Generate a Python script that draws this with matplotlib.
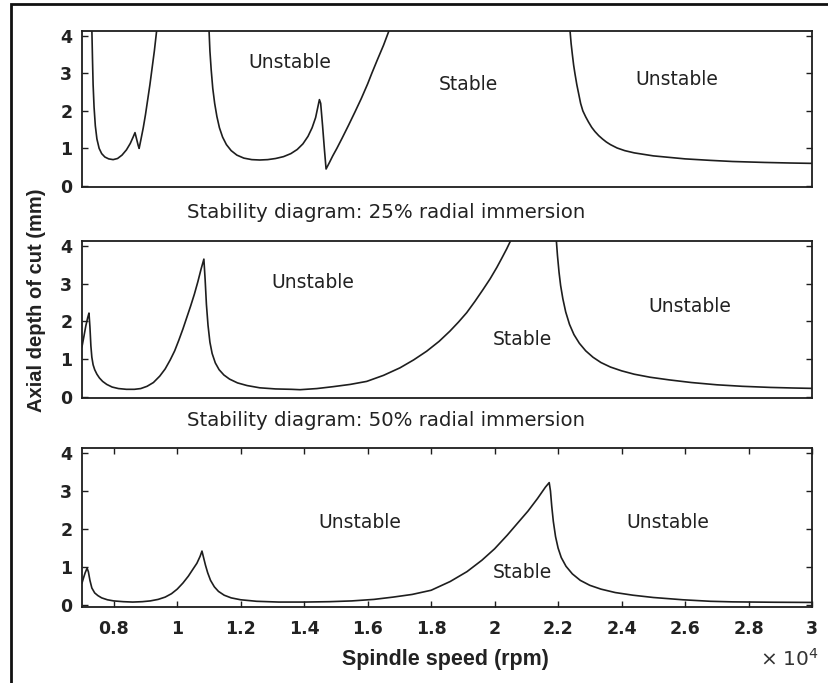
import matplotlib
matplotlib.use("Agg")
import matplotlib.pyplot as plt
from matplotlib.patches import Rectangle

# spindle speed in units of 1e4 rpm, axial depth of cut in mm
# 25% radial immersion (three lobes, clipped at the top)
x25_a = [0.731, 0.733, 0.735, 0.738, 0.742, 0.747, 0.754, 0.762, 0.772, 0.784, 0.798, 0.812, 0.826, 0.840, 0.852, 0.861, 0.867,
         0.872, 0.877, 0.880, 0.886, 0.893, 0.900, 0.907, 0.914, 0.921, 0.928, 0.936]
y25_a = [4.20, 3.40, 2.70, 2.10, 1.60, 1.25, 1.00, 0.86, 0.77, 0.72, 0.70, 0.73, 0.82, 0.96, 1.13, 1.30, 1.42,
         1.25, 1.08, 1.00, 1.25, 1.55, 1.90, 2.30, 2.70, 3.15, 3.60, 4.20]
x25_b = [1.100, 1.103, 1.107, 1.112, 1.118, 1.125, 1.133, 1.143, 1.155, 1.170, 1.188, 1.210, 1.235, 1.260, 1.285, 1.310, 1.335,
         1.358, 1.378, 1.396, 1.412, 1.425, 1.436, 1.443, 1.448, 1.452, 1.458, 1.464, 1.469, 1.480, 1.490, 1.503, 1.520, 1.540,
         1.560, 1.580, 1.600, 1.613, 1.630, 1.650, 1.670]
y25_b = [4.20, 3.60, 3.10, 2.60, 2.20, 1.85, 1.55, 1.30, 1.10, 0.94, 0.82, 0.74, 0.70, 0.69, 0.70, 0.73, 0.78,
         0.86, 0.97, 1.12, 1.32, 1.55, 1.82, 2.10, 2.30, 2.20, 1.60, 0.95, 0.45, 0.63, 0.80, 1.00, 1.28, 1.62,
         1.97, 2.33, 2.72, 3.00, 3.35, 3.75, 4.20]
x25_c = [2.237, 2.241, 2.245, 2.249, 2.253, 2.259, 2.265, 2.271, 2.278, 2.287, 2.296, 2.306, 2.316, 2.328, 2.340, 2.352, 2.365,
         2.386, 2.410, 2.440, 2.470, 2.500, 2.550, 2.600, 2.680, 2.750, 2.850, 2.930, 3.000]
y25_c = [4.20, 3.80, 3.50, 3.22, 3.00, 2.70, 2.45, 2.20, 2.00, 1.84, 1.70, 1.56, 1.45, 1.34, 1.25, 1.17, 1.10,
         1.01, 0.94, 0.88, 0.84, 0.80, 0.76, 0.72, 0.68, 0.65, 0.625, 0.61, 0.60]

# 50% radial immersion
x50_a = [0.700, 0.706, 0.712, 0.718, 0.722, 0.725, 0.728, 0.731, 0.735, 0.740, 0.747, 0.755, 0.765, 0.778, 0.795, 0.815, 0.840,
         0.865, 0.885, 0.905, 0.925, 0.945, 0.962, 0.978, 0.992, 1.005, 1.018, 1.030, 1.042, 1.054, 1.065, 1.075, 1.084,
         1.088, 1.092, 1.097, 1.103, 1.110, 1.120, 1.132, 1.147, 1.165, 1.190, 1.220, 1.260, 1.310, 1.360, 1.387, 1.440,
         1.491, 1.545, 1.597, 1.650, 1.702, 1.745, 1.786, 1.825, 1.859, 1.886, 1.912, 1.938, 1.964, 1.986, 2.007, 2.023,
         2.038, 2.054]
y50_a = [1.33, 1.60, 1.88, 2.10, 2.22, 1.85, 1.35, 1.05, 0.85, 0.72, 0.60, 0.50, 0.41, 0.33, 0.26, 0.22, 0.20,
         0.20, 0.22, 0.28, 0.38, 0.55, 0.74, 0.98, 1.22, 1.50, 1.80, 2.10, 2.40, 2.72, 3.05, 3.38, 3.65,
         3.10, 2.45, 1.90, 1.45, 1.15, 0.90, 0.72, 0.58, 0.47, 0.37, 0.30, 0.24, 0.21, 0.20, 0.19, 0.22,
         0.27, 0.33, 0.41, 0.57, 0.77, 0.98, 1.21, 1.47, 1.74, 1.98, 2.23, 2.53, 2.85, 3.13, 3.43, 3.68,
         3.92, 4.20]
x50_b = [2.194, 2.198, 2.203, 2.208, 2.215, 2.224, 2.236, 2.250, 2.267, 2.287, 2.310, 2.335, 2.365, 2.400, 2.440, 2.490,
         2.550, 2.620, 2.700, 2.780, 2.870, 2.940, 3.000]
y50_b = [4.20, 3.75, 3.30, 2.95, 2.60, 2.25, 1.92, 1.65, 1.42, 1.22, 1.05, 0.91, 0.79, 0.69, 0.60, 0.52,
         0.45, 0.38, 0.32, 0.28, 0.25, 0.235, 0.225]

# 100% radial immersion (slotting)
x100 = [0.700, 0.705, 0.710, 0.716, 0.720, 0.725, 0.731, 0.740, 0.750, 0.762, 0.780, 0.800, 0.830, 0.860, 0.890, 0.915,
        0.940, 0.962, 0.982, 1.000, 1.018, 1.035, 1.050, 1.062, 1.072, 1.078, 1.083, 1.089, 1.096, 1.105, 1.117, 1.130,
        1.148, 1.170, 1.200, 1.250, 1.320, 1.400, 1.480, 1.550, 1.620, 1.680, 1.740, 1.800, 1.860, 1.913, 1.960, 2.000,
        2.040, 2.075, 2.105, 2.135, 2.160, 2.172, 2.176, 2.180, 2.185, 2.192, 2.200, 2.210, 2.225, 2.245, 2.270, 2.300,
        2.335, 2.380, 2.436, 2.500, 2.593, 2.680, 2.750, 2.880, 3.000]
y100 = [0.58, 0.72, 0.85, 0.97, 0.88, 0.65, 0.45, 0.32, 0.25, 0.19, 0.14, 0.11, 0.09, 0.08, 0.09, 0.11,
        0.15, 0.21, 0.30, 0.42, 0.58, 0.76, 0.95, 1.10, 1.28, 1.42, 1.25, 1.05, 0.85, 0.65, 0.48, 0.36,
        0.26, 0.19, 0.14, 0.10, 0.08, 0.08, 0.09, 0.11, 0.15, 0.21, 0.28, 0.39, 0.62, 0.88, 1.18, 1.48,
        1.84, 2.18, 2.47, 2.80, 3.10, 3.22, 3.00, 2.60, 2.20, 1.80, 1.50, 1.25, 1.02, 0.82, 0.65, 0.52,
        0.42, 0.33, 0.26, 0.20, 0.14, 0.10, 0.085, 0.075, 0.07]

xticks = [0.8, 1.0, 1.2, 1.4, 1.6, 1.8, 2.0, 2.2, 2.4, 2.6, 2.8, 3.0]
xticklabels = ['0.8', '1', '1.2', '1.4', '1.6', '1.8', '2', '2.2', '2.4', '2.6', '2.8', '3']
yticks = [0, 1, 2, 3, 4]

ink = '#1e1e1e'
plt.rcParams['font.family'] = ['DejaVu Sans']

fig = plt.figure(figsize=(8.29, 6.83), dpi=100)

left, width = 82 / 829, 730 / 829
ax1 = fig.add_axes([left, 1 - 187 / 683, width, 156 / 683])
ax2 = fig.add_axes([left, 1 - 398 / 683, width, 157 / 683])
ax3 = fig.add_axes([left, 1 - 607 / 683, width, 159 / 683])

ax1.plot(x25_a, y25_a, color=ink, lw=1.2)
ax1.plot(x25_b, y25_b, color=ink, lw=1.2)
ax1.plot(x25_c, y25_c, color=ink, lw=1.2)
ax2.plot(x50_a, y50_a, color=ink, lw=1.2)
ax2.plot(x50_b, y50_b, color=ink, lw=1.2)
ax3.plot(x100, y100, color=ink, lw=1.2)

for ax, ylo in [(ax1, -0.03), (ax2, -0.03), (ax3, -0.05)]:
        ax.set_xlim(0.7, 3.0)
        ax.set_ylim(ylo, 4.13)
        ax.set_yticks(yticks)
        for sp in ax.spines.values():
                sp.set_linewidth(1.3)
                sp.set_color(ink)
        ax.tick_params(direction='in', length=4, width=1, colors=ink, labelsize=12.5,
                       right=True, top=True, labelcolor='#222222')
        ax.tick_params(axis='y', pad=7)
        for lab in ax.get_yticklabels():
                lab.set_fontweight('bold')

ax1.set_xticks([])
ax2.set_xticks([])
ax3.set_xticks(xticks)
ax3.set_xticklabels(xticklabels, fontweight='bold')
ax3.tick_params(axis='x', pad=9)

# region labels
txt = dict(fontsize=13.5, color='#222222', ha='center', va='center')
ax1.text(1.355, 3.28, 'Unstable', **txt)
ax1.text(1.916, 2.69, 'Stable', **txt)
ax1.text(2.575, 2.83, 'Unstable', **txt)
ax2.text(1.428, 3.04, 'Unstable', **txt)
ax2.text(2.086, 1.52, 'Stable', **txt)
ax2.text(2.616, 2.40, 'Unstable', **txt)
ax3.text(1.576, 2.16, 'Unstable', **txt)
ax3.text(2.089, 0.87, 'Stable', **txt)
ax3.text(2.546, 2.18, 'Unstable', **txt)

fig.text(386.5 / 829, 1 - 212 / 683, 'Stability diagram: 25% radial immersion',
         fontsize=14.2, color='#222222', ha='center', va='center')
fig.text(386.5 / 829, 1 - 420 / 683, 'Stability diagram: 50% radial immersion',
         fontsize=14.2, color='#222222', ha='center', va='center')

fig.text(36.5 / 829, 1 - 300 / 683, 'Axial depth of cut (mm)', rotation=90,
         fontsize=14.5, fontweight='bold', family='Liberation Sans',
         color='#222222', ha='center', va='center')
fig.text(445 / 829, 1 - 659 / 683, 'Spindle speed (rpm)', fontsize=15.5,
         fontweight='bold', family='Liberation Sans', color='#222222',
         ha='center', va='center')
fig.text(818 / 829, 1 - 659 / 683, r'$\times\;10^{4}$', fontsize=14.5,
         color='#333333', ha='right', va='center')

# outer frame of the scanned figure
fig.add_artist(Rectangle((11 / 829, -0.05), 1.0, (683 - 4) / 683 + 0.05,
                         transform=fig.transFigure, fill=False, lw=2, color='#111111'))

plt.savefig('out.png', dpi=100)
plt.close()
